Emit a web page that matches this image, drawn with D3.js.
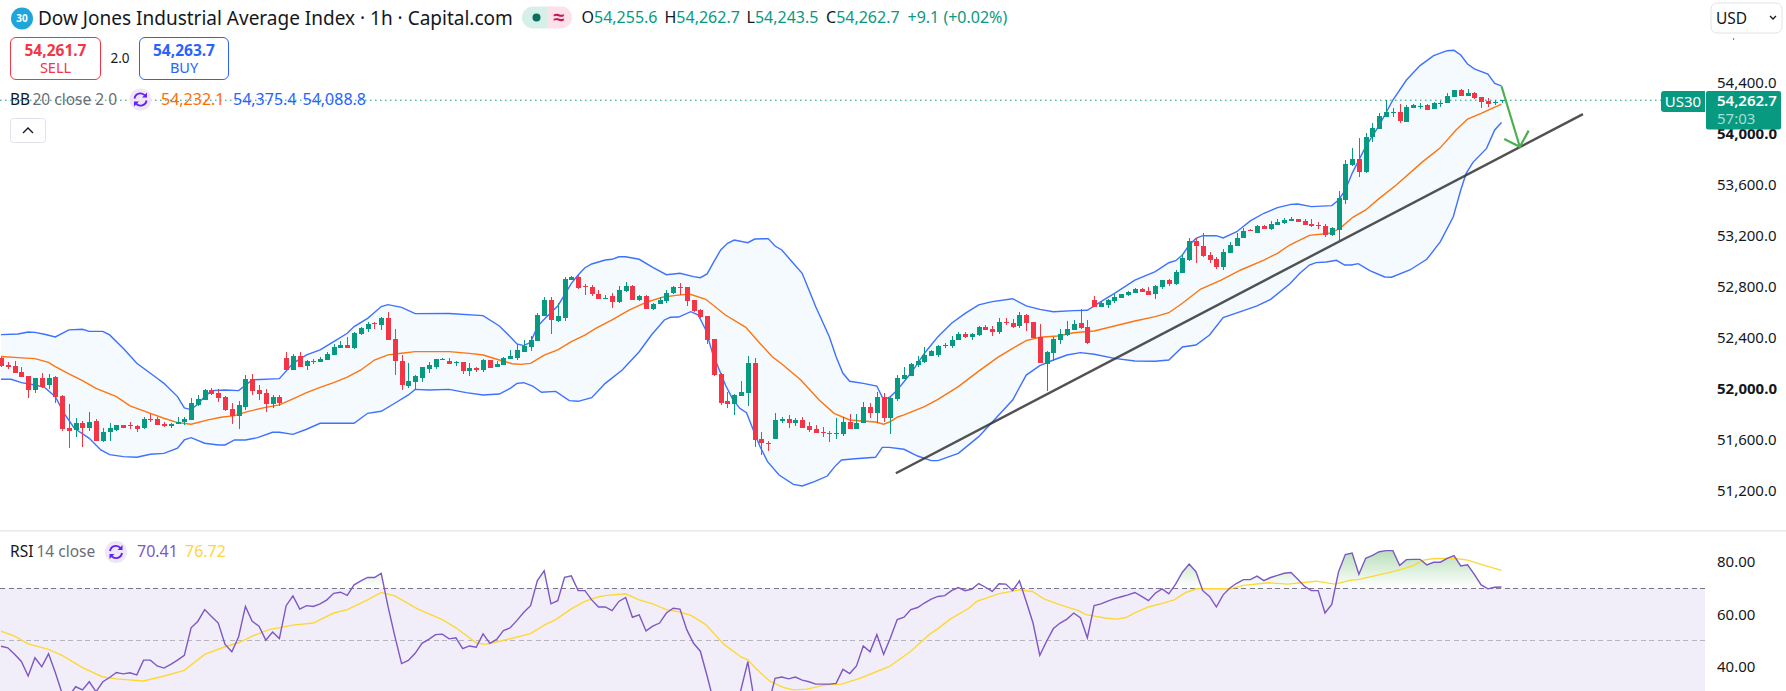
<!DOCTYPE html>
<html><head><meta charset="utf-8">
<script src="https://cdn.jsdelivr.net/npm/d3@7/dist/d3.min.js"></script>
<style>
html,body{margin:0;padding:0;background:#fff;overflow:hidden}
svg{display:block}
text{font-family:"Noto Sans",sans-serif}
</style></head><body><svg id="c" width="1786" height="691"></svg>
<script>
const title="Dow Jones Industrial Average Index · 1h · Capital.com";
const priceTicks=[54400,54000,53600,53200,52800,52400,52000,51600,51200];
const boldTicks=[54000,52000];
const rsiTicks=[80,60,40];
const rsiLevels=[70,50];
const lastPrice=54262.7;
const ohlc=[
[52239,52252,52173,52178],[52186,52210,52152,52171],[52181,52218,52121,52123],[52131,52171,52090,52092],[52100,52100,51930,51990],[51990,52084,51969,52084],[52084,52123,52003,52011],[52029,52116,52001,52084],[52092,52100,51891,51935],[51943,51948,51671,51684],
[51692,51880,51535,51669],[51677,51771,51624,51731],[51731,51747,51543,51692],[51692,51818,51669,51739],[51747,51760,51588,51590],[51590,51692,51582,51661],[51661,51731,51590,51692],[51677,51716,51669,51716],[51716,51716,51692,51692],[51713,51739,51684,51705],
[51708,51716,51661,51684],[51692,51778,51684,51763],[51763,51799,51739,51755],[51763,51778,51716,51716],[51724,51739,51700,51708],[51711,51731,51692,51724],[51724,51778,51724,51739],[51739,51778,51718,51763],[51755,51927,51755,51888],[51873,51951,51865,51920],
[51914,51998,51912,51990],[51990,52006,51951,51959],[51967,51998,51896,51927],[51935,51943,51826,51833],[51841,51888,51724,51786],[51786,51904,51684,51873],[51857,52108,51833,52076],[52076,52116,51951,51982],[51990,52029,51912,51959],[51967,51998,51820,51880],
[51880,51951,51849,51935],[51935,51951,51865,51888],[52241,52288,52147,52147],[52147,52273,52147,52257],[52257,52288,52171,52171],[52178,52225,52147,52218],[52218,52233,52194,52210],[52210,52249,52210,52233],[52225,52288,52225,52273],[52265,52351,52265,52327],
[52320,52374,52320,52343],[52343,52406,52320,52320],[52320,52445,52312,52437],[52429,52484,52422,52476],[52469,52523,52445,52508],[52516,52523,52469,52508],[52500,52563,52461,52555],[52555,52602,52382,52382],[52390,52469,52108,52218],[52218,52265,51990,52029],
[52022,52202,52006,52061],[52053,52108,51990,52100],[52084,52171,52053,52171],[52155,52210,52123,52186],[52171,52233,52155,52233],[52225,52241,52225,52233],[52218,52241,52194,52194],[52199,52220,52181,52207],[52207,52212,52118,52136],[52136,52199,52102,52160],
[52160,52168,52134,52149],[52147,52230,52131,52225],[52225,52225,52162,52162],[52170,52217,52170,52194],[52186,52246,52186,52238],[52233,52301,52233,52256],[52238,52348,52225,52304],[52288,52379,52288,52335],[52327,52413,52296,52382],[52374,52594,52374,52578],
[52570,52719,52570,52696],[52696,52719,52429,52539],[52531,52672,52523,52570],[52554,52876,52531,52860],[52852,52884,52850,52876],[52876,52892,52779,52790],[52805,52821,52735,52798],[52798,52813,52727,52743],[52743,52774,52704,52704],[52706,52735,52704,52714],
[52727,52751,52633,52680],[52680,52805,52672,52774],[52766,52837,52758,52805],[52805,52813,52696,52696],[52696,52735,52688,52727],[52727,52735,52625,52625],[52625,52672,52617,52664],[52664,52719,52664,52696],[52688,52774,52672,52751],[52751,52805,52743,52798],
[52798,52829,52735,52790],[52798,52798,52649,52688],[52696,52696,52602,52609],[52617,52625,52554,52562],[52570,52570,52351,52382],[52390,52390,52100,52107],[52115,52123,51872,51888],[51904,51974,51849,51880],[51880,51958,51794,51951],[51943,52060,51943,51974],
[51966,52256,51864,52202],[52202,52241,51543,51598],[51606,51660,51480,51574],[51574,51590,51511,51566],[51606,51810,51606,51755],[51747,51778,51731,51762],[51762,51794,51692,51731],[51731,51770,51708,51755],[51755,51778,51692,51692],[51708,51739,51660,51676],
[51684,51715,51653,51653],[51660,51700,51621,51653],[51653,51668,51582,51645],[51645,51770,51606,51653],[51645,51778,51629,51739],[51739,51802,51684,51684],[51684,51802,51684,51731],[51731,51896,51731,51856],[51856,51888,51770,51810],[51810,51974,51731,51935],
[51935,51966,51739,51770],[51770,51935,51645,51927],[51919,52107,51904,52084],[52076,52170,52076,52107],[52100,52202,52100,52194],[52183,52256,52170,52217],[52209,52327,52202,52264],[52256,52304,52256,52296],[52264,52343,52249,52335],[52335,52358,52319,52343],
[52335,52413,52319,52382],[52382,52445,52382,52429],[52429,52445,52398,52405],[52405,52437,52382,52429],[52421,52492,52413,52484],[52484,52500,52460,52460],[52468,52492,52413,52445],[52445,52554,52429,52523],[52523,52554,52500,52515],[52515,52547,52476,52484],
[52492,52602,52476,52578],[52578,52586,52453,52515],[52523,52523,52398,52398],[52405,52507,52202,52202],[52194,52296,51982,52288],[52280,52405,52217,52390],[52382,52468,52351,52429],[52421,52531,52413,52468],[52460,52539,52460,52507],[52515,52625,52468,52476],
[52484,52539,52351,52358],[52696,52727,52641,52641],[52641,52680,52641,52672],[52656,52704,52633,52696],[52688,52743,52672,52719],[52711,52743,52711,52743],[52735,52766,52727,52758],[52751,52790,52751,52782],[52782,52790,52758,52758],[52766,52798,52735,52735],
[52743,52813,52704,52805],[52798,52852,52782,52852],[52852,52860,52805,52821],[52821,52931,52813,52915],[52907,53056,52907,53025],[53009,53182,53001,53158],[53158,53182,52986,53119],[53119,53221,53033,53041],[53048,53072,52986,53009],[53017,53033,52939,52954],
[52954,53096,52931,53072],[53064,53150,53064,53127],[53119,53221,53119,53182],[53182,53260,53182,53237],[53245,53252,53237,53242],[53221,53284,53221,53276],[53276,53284,53252,53252],[53253,53316,53245,53292],[53284,53331,53284,53308],[53300,53339,53292,53323],
[53318,53347,53316,53331],[53331,53331,53308,53308],[53316,53331,53284,53284],[53292,53331,53269,53276],[53287,53308,53253,53279],[53276,53292,53190,53206],[53206,53269,53198,53261],[53245,53551,53167,53496],[53480,53794,53449,53763],[53755,53888,53747,53802],
[53802,53966,53661,53700],[53700,54006,53692,53974],[53974,54084,53935,54045],[54037,54163,54037,54139],[54131,54264,54131,54170],[54162,54202,54131,54170],[54170,54233,54084,54100],[54092,54225,54092,54210],[54202,54233,54202,54225],[54212,54241,54194,54220],
[54225,54233,54186,54186],[54194,54249,54194,54241],[54230,54257,54210,54238],[54241,54319,54241,54296],[54288,54343,54288,54343],[54343,54351,54296,54296],[54296,54351,54296,54319],[54319,54327,54272,54280],[54288,54288,54202,54249],[54257,54280,54210,54233],
[54241,54264,54225,54249],[54255.6,54262.7,54243.5,54262.7]];
const bbUpper=[[0,52424],[2.5,52429],[4,52445],[5,52442],[6.4,52427],[8,52406],[10,52461],[12,52466],[13,52450],[15,52450],[16,52422],[18,52317],[20,52199],[23,52082],[24,52042],[26,51938],[27,51849],[28,51836],[29,51880],[30,51938],[31,51985],[33,51990],[35,51985],[37,52069],[41,52079],[43,52199],[45,52265],[47,52304],[49,52369],[51,52435],[52,52487],[54,52552],[55,52597],[56,52644],[57,52659],[59,52638],[61,52589],[66,52590],[71,52573],[73.4,52492],[75,52408],[76,52351],[77,52338],[78,52364],[79,52487],[80,52544],[82,52649],[83,52735],[84,52826],[85,52892],[86,52949],[87,52978],[89,53009],[90,53015],[91,53035],[92,53035],[94,53015],[96,52952],[98,52894],[100,52905],[102,52879],[103,52871],[104,52900],[105,52996],[106,53088],[107,53140],[108,53166],[110,53145],[111,53174],[113,53177],[114,53119],[115,53088],[116.5,52996],[118,52905],[119,52774],[120,52643],[122,52408],[123,52251],[124,52121],[125,52058],[127,52042],[129,52021],[130,51911],[131,51938],[132,51990],[134,52121],[136,52277],[137,52343],[138,52408],[140,52513],[142,52591],[144,52657],[146,52683],[149,52706],[151,52649],[153,52622],[155,52604],[158,52612],[160,52615],[162,52683],[164,52748],[167,52852],[170,52918],[172,52988],[173,53004],[174,53049],[175,53127],[176,53179],[177,53200],[179,53200],[180,53182],[182,53231],[184,53316],[186,53376],[188,53420],[190,53446],[191,53449],[193,53428],[196,53436],[197,53480],[198,53559],[199,53689],[201,53899],[203,54068],[205,54264],[207,54421],[209,54534],[211,54612],[213,54651],[214,54654],[215,54617],[216,54547],[217,54508],[219,54468],[220,54395],[221,54375]];
const bbBasis=[[0,52252],[2.5,52244],[5,52236],[7,52207],[8,52173],[10,52116],[12,52063],[14,52003],[17,51938],[19,51865],[22,51807],[24,51768],[26,51734],[28,51721],[30.5,51755],[32.4,51776],[34.4,51789],[36.3,51820],[38.8,51852],[41,51873],[43,51920],[45,51969],[47,52011],[49,52048],[51,52090],[53,52147],[55,52225],[57,52265],[59,52278],[61,52291],[66,52291],[69,52277],[71,52264],[73.4,52225],[75.3,52196],[76.5,52191],[78,52199],[80,52264],[82,52304],[84,52369],[86,52421],[87.6,52473],[90,52539],[92.5,52617],[95,52677],[97.4,52717],[99.4,52732],[101.4,52743],[103.8,52701],[106.7,52578],[109.7,52481],[111.7,52361],[113.6,52251],[115,52194],[117.8,52068],[120.5,51911],[122.7,51807],[125,51755],[128.8,51739],[130,51721],[131,51742],[132,51776],[133,51794],[136,51859],[138,51917],[141,52016],[143.9,52134],[146.8,52246],[149,52317],[151,52377],[153,52403],[155.6,52413],[158,52439],[161,52453],[164,52492],[167,52531],[170,52565],[172,52596],[174,52670],[176.7,52782],[179.7,52852],[182.6,52931],[186,53009],[188,53062],[189.8,53127],[192.7,53203],[195.7,53219],[197.2,53258],[199.1,53344],[201,53402],[203,53493],[205.5,53598],[209.4,53781],[211.9,53885],[214.3,54029],[216,54115],[218,54160],[221,54232]];
const bbLower=[[0,52074],[1.5,52074],[3,52048],[5,52029],[6.4,52011],[8,51938],[9.3,51807],[10.8,51690],[13,51611],[14.7,51520],[16,51483],[18,51467],[20,51462],[22,51486],[24,51493],[26,51533],[27,51598],[28,51616],[30,51572],[32,51559],[33,51559],[34.4,51598],[36,51598],[37.8,51616],[40,51658],[41,51658],[43,51642],[45,51682],[47,51729],[52,51729],[54,51807],[56,51823],[58,51886],[60,51951],[61,51995],[63,51990],[66,51995],[68.5,51969],[71,51951],[73.4,51958],[75,52003],[76,52042],[77,52047],[78.3,52021],[79.6,51972],[81.7,51979],[83.7,51906],[85,51901],[87,51930],[89,52042],[91.5,52147],[94,52290],[95.8,52421],[97.7,52539],[98.6,52560],[99.8,52562],[101.6,52604],[102.7,52578],[103.8,52460],[104.8,52277],[105.8,52147],[106.7,52029],[107.7,51924],[108.8,51846],[109.8,51812],[110.8,51676],[111.8,51545],[112.9,51428],[114.6,51323],[116.7,51250],[118,51237],[119.8,51271],[121.7,51315],[122.8,51389],[123.8,51441],[125.8,51451],[128.8,51462],[129.8,51540],[130.8,51540],[133,51525],[135,51472],[137,51436],[138,51436],[141,51493],[144,51624],[145.6,51715],[149,51911],[151,52107],[153,52181],[155,52225],[157,52264],[159,52283],[161,52270],[164,52238],[167,52217],[170,52215],[172,52225],[174,52327],[176,52343],[178,52421],[180,52557],[183,52612],[185,52649],[187,52701],[189.8,52821],[191.3,52905],[192.7,52970],[193.7,52989],[195.2,52994],[196.7,53007],[197.9,52970],[198.9,52970],[199.9,52981],[201.6,52926],[203.8,52876],[204.8,52874],[207.5,52931],[210,53015],[212,53153],[213.9,53349],[215,53558],[215.8,53689],[216.8,53775],[218.8,53885],[220,54029],[221,54088]];
const rsiValues=[47.9,47.3,44.8,42.1,36.6,43.5,40.1,45,37.9,30,29,32.5,31.3,34.4,30.6,34.4,36,37.9,37.4,37.8,37,42.6,42.6,40.4,39.6,41,42.6,44.4,54.9,57.4,61.8,59.2,56.7,48.6,45.8,51.5,63,57.4,55.5,50.2,53.3,50.8,63.3,67,62,63.3,63,64,65.5,68,68.4,67.2,71.2,72.7,74,74,75.6,63,51.7,41.3,42.5,45.2,49,50.5,52.3,52.5,50.7,51.1,47,48,47.5,52.6,49,50.5,53.8,54.9,57.7,60.8,63.3,72.8,76.6,64,65.2,74.1,74.6,69,69,65.5,62.8,62.8,61.4,64.9,66.4,58.9,59.8,53.7,55.5,56.7,60.5,62.3,62,54.2,49,46,36.6,26.5,21.5,20.3,21.5,31.6,42,26.5,22.8,25.3,35.7,36.2,35.5,36.2,35,34.4,33.5,33.5,33.5,33.8,39.1,37.5,40.4,48,45.8,52.3,44.8,51.1,58,58.9,61.8,62.6,64.3,65.8,66.8,67.1,69,70.2,69,69.6,71.7,70.3,68.7,71.6,71.5,69,72.7,64.9,56.7,44.4,49.8,54.6,56.7,58.2,60.5,58.6,51.1,63.3,64,65,66,66.7,67.4,68.3,66.8,65.2,68,69.7,67.8,71.5,76,79.1,76.2,69,66.8,62.8,67.4,70,71.8,73.2,73.2,74.5,72.8,74,74.8,75.6,75.9,73.3,70.6,69,69,60.5,63.8,76.2,82.7,83.3,75.2,81.3,82.4,83.8,84.2,84.2,78.6,80.8,80.9,80.9,78.8,79.8,79.8,81.3,82.3,78.4,78.8,75.2,71.2,69.7,70.3,70.41];
const rsiMa=[[0,53.6],[2,51.7],[4,48.8],[7,46.7],[9,44.4],[12,39.8],[15,36.2],[17,35.5],[21,34.7],[24,36.6],[27,38.7],[30,44.8],[33,47.7],[35,49.2],[37,51.7],[39.5,54.2],[43,55.9],[46,56.7],[49,60.5],[51,61.8],[54,65.5],[56,68.3],[58,67],[61.4,62],[65,58],[67,54.9],[70,49.2],[71.3,48.6],[73,49.5],[78,52.7],[80,55.9],[81.7,58],[84,62.1],[86,64.9],[88.2,66.8],[89.3,67.2],[92,67.8],[94,65.5],[96,64],[98,61.8],[100,60.9],[101.7,59.5],[103.8,56.1],[106.5,48.6],[109,43.8],[110,42.7],[111.3,39.1],[113.3,34.5],[115.3,32.2],[116.7,31.3],[118.7,31.6],[121.5,33.2],[123.8,33.5],[126.5,35.7],[128.8,38.1],[130.8,40.1],[134,46],[136.7,52.3],[138,54.6],[139.8,58.2],[142.6,62.4],[143.7,64.9],[146.9,67.8],[150,69.3],[151.9,68.7],[153.6,65.9],[155.9,63.7],[158.7,61.4],[159.8,59.9],[162.6,58.6],[164.3,58.2],[165.7,58.8],[166.9,60.5],[169,62.8],[170.8,64],[172.8,65.5],[174.5,68.3],[176.2,69.8],[178.5,69.7],[181,69.7],[183,71],[186.7,72],[189.5,71.5],[191.5,72],[193.7,72.6],[196.5,71.5],[198.8,73],[199.9,73.2],[205.6,76.6],[208,78.5],[209.5,80.6],[210.9,81.1],[214,81.3],[216,80.6],[218,79],[221,76.72]];
const trendLine=[[131.8,51337],[233,54154]];
const arrowShaft=[[221,54372],[223.7,53898]];
const arrowHead=[[221.4,53958],[223.7,53898],[225,54024]];

const W=1786,H=691,paneR=1705;
const svg=d3.select("#c");
const defs=svg.append("defs");
const x=d3.scaleLinear().domain([0,221]).range([1,1501.5]);
const y=d3.scaleLinear().domain([51200,54400]).range([490.7,82.7]);
const r=d3.scaleLinear().domain([40,80]).range([667,561.7]);
const fmt=d3.format(",.1f"), fmt2=d3.format(".2f");
const GREEN="#089981",RED="#F23645",BLUE="#2962FF",ORANGE="#FF6D00",PURPLE="#7E57C2",YELLOW="#FDD835";
const pl=d3.line().x(d=>x(d[0])).y(d=>y(d[1]));

// Bollinger band
svg.append("path").attr("d",pl(bbUpper.concat(bbLower.slice().reverse()))+"Z").attr("fill","#2196F3").attr("fill-opacity",0.05);
svg.append("path").attr("d",pl(bbUpper)).attr("fill","none").attr("stroke",BLUE).attr("stroke-opacity",.9).attr("stroke-width",1.4);
svg.append("path").attr("d",pl(bbLower)).attr("fill","none").attr("stroke",BLUE).attr("stroke-opacity",.9).attr("stroke-width",1.4);
svg.append("path").attr("d",pl(bbBasis)).attr("fill","none").attr("stroke",ORANGE).attr("stroke-opacity",.95).attr("stroke-width",1.4);

// last price line
svg.append("line").attr("x1",0).attr("x2",1661).attr("y1",y(lastPrice)).attr("y2",y(lastPrice)).attr("stroke",GREEN).attr("stroke-width",1).attr("stroke-dasharray","1.5 3.5");

// candles
const g=svg.append("g");
g.selectAll("line").data(ohlc).join("line").attr("shape-rendering","crispEdges")
 .attr("x1",(d,i)=>Math.round(x(i))+.5).attr("x2",(d,i)=>Math.round(x(i))+.5)
 .attr("y1",d=>y(d[1])).attr("y2",d=>y(d[2])).attr("stroke",d=>d[3]>=d[0]?GREEN:RED);
g.selectAll("rect").data(ohlc).join("rect").attr("shape-rendering","crispEdges")
 .attr("x",(d,i)=>Math.round(x(i))-2).attr("width",5)
 .attr("y",d=>y(Math.max(d[0],d[3]))).attr("height",d=>Math.max(1,Math.abs(y(d[0])-y(d[3]))))
 .attr("fill",d=>d[3]>=d[0]?GREEN:RED);

// drawings
svg.append("path").attr("d",pl(trendLine)).attr("stroke","#333").attr("stroke-opacity",.85).attr("stroke-width",2.4).attr("fill","none");
svg.append("path").attr("d",pl(arrowShaft)).attr("stroke","#4CAF50").attr("stroke-width",2.2).attr("fill","none");
svg.append("path").attr("d",pl(arrowHead)).attr("stroke","#4CAF50").attr("stroke-width",2.2).attr("fill","none");

// price axis labels
svg.append("g").selectAll("text").data(priceTicks).join("text")
 .attr("x",1717).attr("y",d=>y(d)).attr("dy",".35em").attr("font-size",15)
 .attr("font-weight",d=>boldTicks.includes(d)?700:400).attr("fill","#131722").text(d=>fmt(d));

// last price labels
svg.append("path").attr("d","M1664,91h41v21h-41a3,3 0 0 1 -3,-3v-15a3,3 0 0 1 3,-3z").attr("fill",GREEN);
svg.append("text").attr("x",1683).attr("y",106.5).attr("text-anchor","middle").attr("font-size",15).attr("fill","#fff").text("US30");
svg.append("rect").attr("x",1706).attr("y",91).attr("width",75).attr("height",38.5).attr("rx",2).attr("fill",GREEN);
svg.append("text").attr("x",1717).attr("y",106).attr("font-size",15).attr("font-weight",600).attr("fill","#fff").text(fmt(lastPrice));
svg.append("text").attr("x",1717).attr("y",124).attr("font-size",15).attr("fill","#a6ded2").text("57:03");

// USD button
svg.append("rect").attr("x",1711).attr("y",3).attr("width",71).attr("height",30).attr("rx",6).attr("fill","#fff").attr("stroke","#e0e3eb");
svg.append("text").attr("x",1716).attr("y",23.5).attr("font-size",15.5).attr("fill","#131722").text("USD");
svg.append("path").attr("d","M1770,16l3,3l3,-3").attr("fill","none").attr("stroke","#131722").attr("stroke-width",1.3);
svg.append("circle").attr("cx",1733.5).attr("cy",39).attr("r",.7).attr("fill","#444");

// header
svg.append("circle").attr("cx",22).attr("cy",18.5).attr("r",11).attr("fill","#1EA5DA");
svg.append("text").attr("x",22).attr("y",22).attr("text-anchor","middle").attr("font-size",10).attr("font-weight",700).attr("fill","#fff").text("30");
svg.append("text").attr("x",38).attr("y",24.5).attr("font-size",19).attr("fill","#131722").text(title);
svg.append("path").attr("d","M547,6.5h-14a11,11 0 0 0 0,22h14z").attr("fill","#D7EFE9");
svg.append("path").attr("d","M547,6.5h14a11,11 0 0 1 0,22h-14z").attr("fill","#FCE0EA");
svg.append("circle").attr("cx",536.5).attr("cy",17.5).attr("r",4).attr("fill","#0B6E5F");
svg.append("text").attr("x",559).attr("y",24).attr("text-anchor","middle").attr("font-size",20).attr("font-weight",700).attr("fill","#C2185B").text("≈");
const hdr=[["O","54,255.6",581.5],["H","54,262.7",664.5],["L","54,243.5",746.5],["C","54,262.7",826]];
hdr.forEach(h=>{
  const t=svg.append("text").attr("x",h[2]).attr("y",23).attr("font-size",16);
  t.append("tspan").attr("fill","#131722").text(h[0]);
  t.append("tspan").attr("fill",GREEN).text(h[1]);
});
svg.append("text").attr("x",907.5).attr("y",23).attr("font-size",16).attr("fill",GREEN).text("+9.1 (+0.02%)");

// buy/sell
svg.append("rect").attr("x",10.5).attr("y",37.5).attr("width",90).attr("height",42).attr("rx",5.5).attr("fill","#fff").attr("stroke",RED);
svg.append("text").attr("x",55.5).attr("y",55.5).attr("text-anchor","middle").attr("font-size",15.5).attr("font-weight",700).attr("fill",RED).text("54,261.7");
svg.append("text").attr("x",55.5).attr("y",73).attr("text-anchor","middle").attr("font-size",14.5).attr("fill",RED).text("SELL");
svg.append("text").attr("x",120).attr("y",63).attr("text-anchor","middle").attr("font-size",13.5).attr("fill","#131722").text("2.0");
svg.append("rect").attr("x",139.5).attr("y",37.5).attr("width",89).attr("height",42).attr("rx",5.5).attr("fill","#fff").attr("stroke",BLUE);
svg.append("text").attr("x",184).attr("y",55.5).attr("text-anchor","middle").attr("font-size",15.5).attr("font-weight",700).attr("fill",BLUE).text("54,263.7");
svg.append("text").attr("x",184).attr("y",73).attr("text-anchor","middle").attr("font-size",14.5).attr("fill",BLUE).text("BUY");

function refreshIcon(cx,cy){
  svg.append("circle").attr("cx",cx).attr("cy",cy).attr("r",11).attr("fill","#EDE7F6");
  svg.append("path").attr("d",`M${cx-6},${cy-1}a6,6 0 0 1 10.5,-3 M${cx+6},${cy+1}a6,6 0 0 1 -10.5,3`).attr("fill","none").attr("stroke","#651FFF").attr("stroke-width",1.9);
  svg.append("path").attr("d",`M${cx+6.5},${cy-7}v5h-5z M${cx-6.5},${cy+7}v-5h5z`).attr("fill","#651FFF");
}
// BB legend
svg.append("text").attr("x",10).attr("y",105).attr("font-size",15.5).attr("fill","#131722").text("BB");
svg.append("text").attr("x",32.5).attr("y",105).attr("font-size",15.5).attr("fill","#6a6d78").text("20 close 2 0");
refreshIcon(140.5,99.5);
svg.append("text").attr("x",161).attr("y",105).attr("font-size",16).attr("fill",ORANGE).text("54,232.1");
svg.append("text").attr("x",233).attr("y",105).attr("font-size",16).attr("fill",BLUE).text("54,375.4");
svg.append("text").attr("x",302.5).attr("y",105).attr("font-size",16).attr("fill",BLUE).text("54,088.8");
svg.append("rect").attr("x",10.5).attr("y",118.5).attr("width",35).attr("height",24).attr("rx",3).attr("fill","#fff").attr("stroke","#e0e3eb");
svg.append("path").attr("d","M23,133l5,-5l5,5").attr("fill","none").attr("stroke","#131722").attr("stroke-width",1.4);

// separator
svg.append("rect").attr("x",0).attr("y",530).attr("width",W).attr("height",1.5).attr("fill","#e8e9ed");

// RSI pane
svg.append("rect").attr("x",0).attr("y",r(70)).attr("width",paneR).attr("height",H-r(70)).attr("fill",PURPLE).attr("fill-opacity",.1);
const grad=defs.append("linearGradient").attr("id","ob").attr("gradientUnits","userSpaceOnUse").attr("x1",0).attr("x2",0).attr("y1",r(85)).attr("y2",r(70));
grad.append("stop").attr("offset",0).attr("stop-color","#4CAF50").attr("stop-opacity",.42);
grad.append("stop").attr("offset",1).attr("stop-color","#4CAF50").attr("stop-opacity",0);
defs.append("clipPath").attr("id","above").append("rect").attr("x",0).attr("y",0).attr("width",W).attr("height",r(70));
svg.append("path").attr("clip-path","url(#above)").attr("fill","url(#ob)")
 .attr("d",d3.area().x((d,i)=>x(i)).y0(r(70)).y1(d=>r(d))(rsiValues));
svg.append("line").attr("x1",0).attr("x2",paneR).attr("y1",r(70)).attr("y2",r(70)).attr("stroke","#787B86").attr("stroke-dasharray","5 3.5").attr("stroke-width",1).attr("shape-rendering","crispEdges");
svg.append("line").attr("x1",0).attr("x2",paneR).attr("y1",r(50)).attr("y2",r(50)).attr("stroke","#787B86").attr("stroke-opacity",.5).attr("stroke-dasharray","5 3.5").attr("stroke-width",1).attr("shape-rendering","crispEdges");
svg.append("path").attr("d",d3.line().x(d=>x(d[0])).y(d=>r(d[1]))(rsiMa)).attr("fill","none").attr("stroke",YELLOW).attr("stroke-width",1.4);
svg.append("path").attr("d",d3.line().x((d,i)=>x(i)).y(d=>r(d))(rsiValues)).attr("fill","none").attr("stroke",PURPLE).attr("stroke-width",1.4);
svg.append("g").selectAll("text").data(rsiTicks).join("text").attr("x",1717).attr("y",d=>r(d)).attr("dy",".35em").attr("font-size",15).attr("fill","#131722").text(d=>fmt2(d));
svg.append("text").attr("x",10).attr("y",557).attr("font-size",15.5).attr("fill","#131722").text("RSI");
svg.append("text").attr("x",36.5).attr("y",557).attr("font-size",15.5).attr("fill","#6a6d78").text("14 close");
refreshIcon(116,552);
svg.append("text").attr("x",137).attr("y",557).attr("font-size",16).attr("fill",PURPLE).text("70.41");
svg.append("text").attr("x",185).attr("y",557).attr("font-size",16).attr("fill","#FFD43B").text("76.72");
</script></body></html>
